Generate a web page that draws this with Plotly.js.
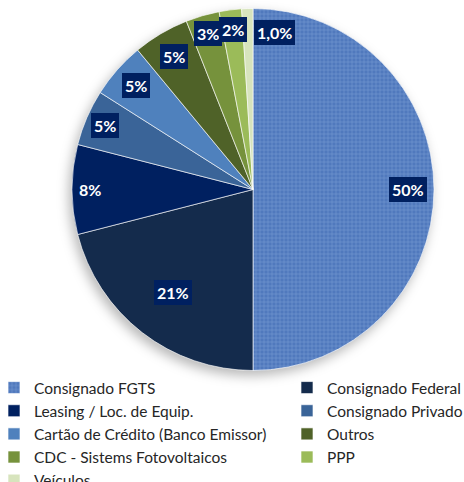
<!DOCTYPE html>
<html>
<head>
<meta charset="utf-8">
<script src="https://cdn.plot.ly/plotly-3.0.1.min.js"></script>
<style>
  html, body { margin: 0; padding: 0; overflow: hidden; background: #fff; width: 464px; height: 482px; }
  #chart { position: absolute; left: -6px; top: 0; width: 620px; height: 482px; }
  #chart .pielayer { filter: drop-shadow(-3px 5px 6px rgba(0,0,0,0.28)); }
</style>
</head>
<body>
<div id="chart"></div>
<script>
// ---- data ----
const categories = [
  "Consignado FGTS",
  "Consignado Federal",
  "Leasing / Loc. de Equip.",
  "Consignado Privado",
  "Cartão de Crédito (Banco Emissor)",
  "Outros",
  "CDC - Sistems Fotovoltaicos",
  "PPP",
  "Veículos"
];
const shares = [50, 21, 8, 5, 5, 5, 3, 2, 1.0];
const shareLabels = ["50%", "21%", "8%", "5%", "5%", "5%", "3%", "2%", "1,0%"];

// ---- styles ----
const sliceColors = ["#4E7AC0", "#142B4C", "#002060", "#3A6498", "#4F81BD", "#4F6228", "#76923C", "#9BBB59", "#D7E4BD"];
const slicePatterns = ["+", "", "", "", "", "", "", "", ""];
const labelRadiusFrac = [0.855, 0.72, 0.9, 0.89, 0.865, 0.855, 0.9, 0.89, 0.87];

const W = 620, H = 482;
const CX = 259, CY = 189.5, R = 181;

const trace = {
  type: "pie",
  labels: categories,
  values: shares,
  sort: false,
  direction: "clockwise",
  rotation: 0,
  textinfo: "none",
  hoverinfo: "label+percent",
  domain: { x: [(CX - R) / W, (CX + R) / W], y: [(H - (CY + R)) / H, (H - (CY - R)) / H] },
  marker: {
    colors: sliceColors,
    line: { color: "rgba(255,255,255,0.8)", width: 0.8 },
    pattern: {
      shape: slicePatterns,
      fgcolor: "#94B1E3",
      bgcolor: "#5079BD",
      fillmode: "overlay",
      size: 4,
      solidity: 0.3
    }
  }
};

// label boxes positioned from the slice angles
const total = shares.reduce((a, b) => a + b, 0);
let cum = 0;
const annotations = shares.map((v, i) => {
  const mid = (cum + v / 2) / total * 2 * Math.PI;
  cum += v;
  const r = R * labelRadiusFrac[i];
  let px = CX + r * Math.sin(mid);
  const py = CY - r * Math.cos(mid);
  let xanchor = "center";
  const degFromTop = Math.min(mid, 2 * Math.PI - mid) * 180 / Math.PI;
  if (degFromTop < 5) { px = CX + 1; xanchor = "left"; }
  return {
    xref: "paper", yref: "paper",
    x: px / W, y: (H - py) / H,
    xanchor: xanchor, yanchor: "middle",
    text: "<b>" + shareLabels[i] + "</b>",
    showarrow: false,
    font: { family: "Lato, 'Open Sans', sans-serif", size: 16, color: "#FFFFFF" },
    bgcolor: "#002060",
    borderpad: 3,
    borderwidth: 0
  };
});

const layout = {
  width: W, height: H,
  margin: { l: 0, r: 0, t: 0, b: 0, autoexpand: false },
  paper_bgcolor: "#FFFFFF",
  showlegend: true,
  legend: {
    orientation: "h",
    x: 0, xanchor: "left",
    y: (H - 371) / H, yanchor: "top",
    entrywidth: 248, entrywidthmode: "pixels",
    font: { family: "Lato, 'Open Sans', sans-serif", size: 15.5, color: "#262626" },
    bgcolor: "rgba(0,0,0,0)",
    traceorder: "normal"
  },
  annotations: annotations
};

Plotly.newPlot("chart", [trace], layout, { staticPlot: true, displayModeBar: false });
</script>
</body>
</html>
